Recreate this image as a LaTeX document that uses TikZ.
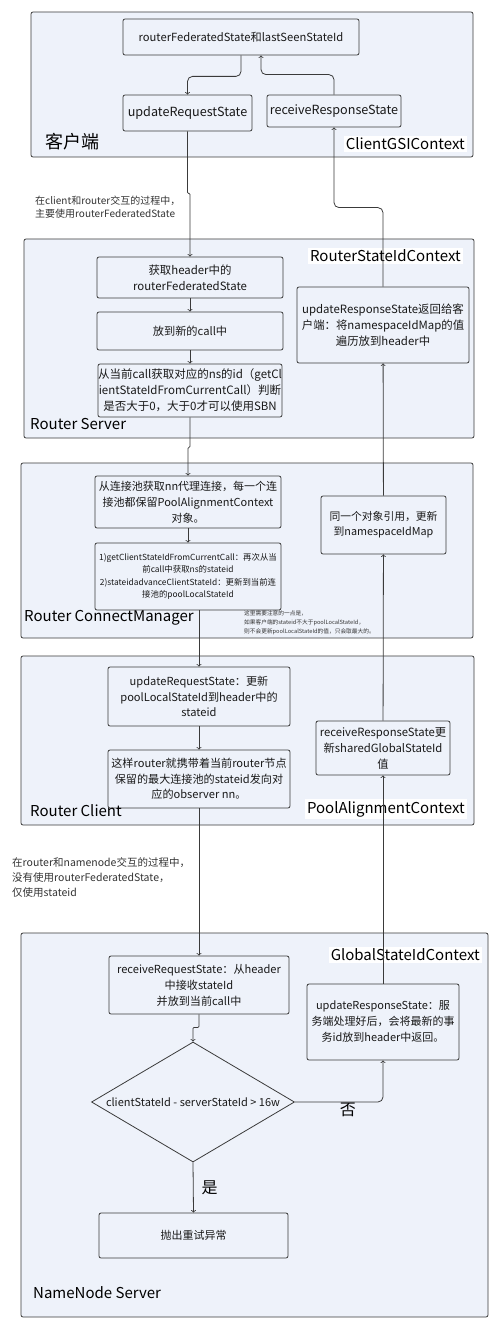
\documentclass[tikz,border=0pt]{standalone}
\usepackage{fontspec}
\setmainfont{Noto Sans CJK SC}
\usetikzlibrary{shapes.geometric}
\definecolor{panelFill}{HTML}{EEF2FA}
\definecolor{edgeGray}{HTML}{3A3A3A}
\definecolor{noteGray}{HTML}{333333}
\newcommand{\gsiSize}[2]{\fontsize{#1}{#2}\selectfont}

\begin{document}
\begin{tikzpicture}[x=1pt,y=-1pt,
  panel/.style={draw=edgeGray, fill=panelFill, rounded corners=2pt, line width=0.8pt, inner sep=0pt},
  stepbox/.style={draw=edgeGray, fill=panelFill, rounded corners=2pt, line width=0.8pt, align=center, inner sep=0pt, text=black!90},
  panelname/.style={anchor=west, inner sep=0pt, font=\gsiSize{15}{18}},
  ctxname/.style={anchor=east, fill=white, inner sep=2pt, font=\gsiSize{15}{18}},
  flow/.style={draw=edgeGray, line width=0.8pt, ->, rounded corners=5pt},
  jog/.style={flow, rounded corners=1pt},
  note/.style={anchor=west, align=left, inner sep=0pt, text=noteGray}]
\useasboundingbox (0,0) rectangle (500,1329);

% 客户端
\node[panel, minimum width=442pt, minimum height=145pt] (client) at (252,84.5) {};
\node[panelname, font=\gsiSize{18}{20}] (clientname) at (45,142) {客户端};
\node[ctxname] (clientctx) at (467,144) {ClientGSIContext};
\node[stepbox, minimum width=236pt, minimum height=36pt, font=\gsiSize{11.2}{16}] (fedstate) at (241,37) {routerFederatedState和lastSeenStateId};
\node[stepbox, minimum width=129pt, minimum height=36pt, font=\gsiSize{12.6}{16}] (clientreq) at (187.5,113) {updateRequestState};
\node[stepbox, minimum width=134pt, minimum height=32pt, font=\gsiSize{12.6}{16}] (clientresp) at (334,111) {receiveResponseState};

\node[note, font=\gsiSize{10}{12.5}] (clientnote) at (35,207) {在client和router交互的过程中，\\主要使用routerFederatedState};

% Router Server
\node[panel, minimum width=450pt, minimum height=199pt] (rsrv) at (249,338.5) {};
\node[panelname] (rsrvname) at (30,424) {Router Server};
\node[ctxname] (rsrvctx) at (463,256) {RouterStateIdContext};
\node[stepbox, minimum width=186pt, minimum height=41pt, font=\gsiSize{11.4}{16}] (getheader) at (190,277.5) {获取header中的\\routerFederatedState};
\node[stepbox, minimum width=186pt, minimum height=38pt, font=\gsiSize{11.2}{16}] (newcall) at (190,331) {放到新的call中};
\node[stepbox, minimum width=184pt, minimum height=53pt, font=\gsiSize{11.5}{16}] (checkns) at (190,390.5) {从当前call获取对应的ns的id（getCl\\ientStateIdFromCurrentCall）判断\\是否大于0，大于0才可以使用SBN};
\node[stepbox, minimum width=172pt, minimum height=76pt, font=\gsiSize{11.4}{16}] (respheader) at (383,325) {updateResponseState返回给客\\户端：将namespaceIdMap的值\\遍历放到header中};

% Router ConnectManager
\node[panel, minimum width=452pt, minimum height=175pt] (cmgr) at (247,550.5) {};
\node[panelname] (cmgrname) at (24,618) {Router ConnectManager};
\node[stepbox, minimum width=186pt, minimum height=52pt, font=\gsiSize{11}{16}] (poolconn) at (188,502) {从连接池获取nn代理连接，每一个连\\接池都保留PoolAlignmentContext\\对象。};
\node[stepbox, minimum width=186pt, minimum height=67pt, font=\gsiSize{8.4}{12.5}] (advance) at (188,576.5) {1)getClientStateIdFromCurrentCall：再次从当\\前call中获取ns的stateid\\2)stateidadvanceClientStateId：更新到当前连\\接池的poolLocalStateId};
\node[stepbox, minimum width=125pt, minimum height=58pt, font=\gsiSize{10.8}{15}] (sameref) at (383.5,525) {同一个对象引用，更新\\到namespaceIdMap};
\node[note, font=\gsiSize{5.7}{9}] (poolnote) at (244,623) {这里需要注意的一点是，\\如果客户端的stateid不大于poolLocalStateId，\\则不会更新poolLocalStateId的值，只会取最大的。};

% Router Client
\node[panel, minimum width=453pt, minimum height=169pt] (rclient) at (247.5,740.5) {};
\node[ctxname] (rclientctx) at (467,809) {PoolAlignmentContext};
\node[stepbox, minimum width=182pt, minimum height=59pt, font=\gsiSize{11.1}{15.5}] (poolheader) at (199,696.5) {updateRequestState：更新\\poolLocalStateId到header中的\\stateid};
\node[stepbox, minimum width=182pt, minimum height=58pt, font=\gsiSize{11.1}{15.5}] (carry) at (199,779) {这样router就携带着当前router节点\\保留的最大连接池的stateid发向对\\应的observer nn。};
\node[stepbox, minimum width=134pt, minimum height=54pt, font=\gsiSize{11.3}{16}] (sharedstate) at (383,748) {receiveResponseState更\\新sharedGlobalStateId\\值};
\node[panelname] (rclientname) at (30,811) {Router Client};

\node[note, font=\gsiSize{10.5}{15}] (nnnote) at (12,877) {在router和namenode交互的过程中，\\没有使用routerFederatedState，\\仅使用stateid};

% NameNode Server
\node[panel, minimum width=467pt, minimum height=384pt] (nnsrv) at (254.5,1125) {};
\node[ctxname] (nnctx) at (482,955) {GlobalStateIdContext};
\node[panelname] (nnname) at (33,1293) {NameNode Server};
\node[stepbox, minimum width=180pt, minimum height=58pt, font=\gsiSize{11.1}{16}] (recvreq) at (199,985) {receiveRequestState：从header\\中接收stateId\\并放到当前call中};
\node[stepbox, minimum width=152pt, minimum height=76pt, font=\gsiSize{11}{16}] (nnresp) at (383,1022) {updateResponseState：服\\务端处理好后，会将最新的事\\务id放到header中返回。};
\node[stepbox, shape=diamond, aspect=1.69, rounded corners=0pt, minimum width=203pt, minimum height=120pt, font=\gsiSize{11}{16}] (gap) at (193,1102) {clientStateId - serverStateId > 16w};
\node[stepbox, minimum width=189pt, minimum height=45pt, font=\gsiSize{11}{16}] (retry) at (193.5,1235.5) {抛出重试异常};

% request path
\draw[flow] (fedstate.south) -- ++(0,21) -| (clientreq.north);
\draw[jog] (clientreq.south) -- ++(0,62) -| (getheader.north);
\draw[flow] (getheader) -- (newcall);
\draw[flow] (newcall) -- (checkns);
\draw[jog] (checkns.south) -- ++(0,30) -| (poolconn.north);
\draw[flow] (poolconn) -- (advance);
\draw[flow] (advance.south -| poolheader.north) -- (poolheader.north);
\draw[flow] (poolheader) -- (carry);
\draw[flow] (carry) -- (recvreq);
\draw[jog] (recvreq.south) -- ++(0,13) -| (gap.north);
\draw[flow] (gap.south) -- node[right=8pt, inner sep=0pt, font=\gsiSize{16}{18}] {是} (retry.north);
\draw[flow] (gap.east) -| node[pos=0.3, below, inner sep=1pt, font=\gsiSize{16}{18}] {否} (nnresp.south);

% response path
\draw[flow] (nnresp) -- (sharedstate);
\draw[flow] (sharedstate) -- (sameref);
\draw[flow] (sameref) -- (respheader);
\draw[flow] (respheader.north) -- ++(0,-79) -| (clientresp.south);
\draw[flow] (clientresp.north) -- ++(0,-20) -| ([xshift=20pt]fedstate.south);
\end{tikzpicture}
\end{document}
